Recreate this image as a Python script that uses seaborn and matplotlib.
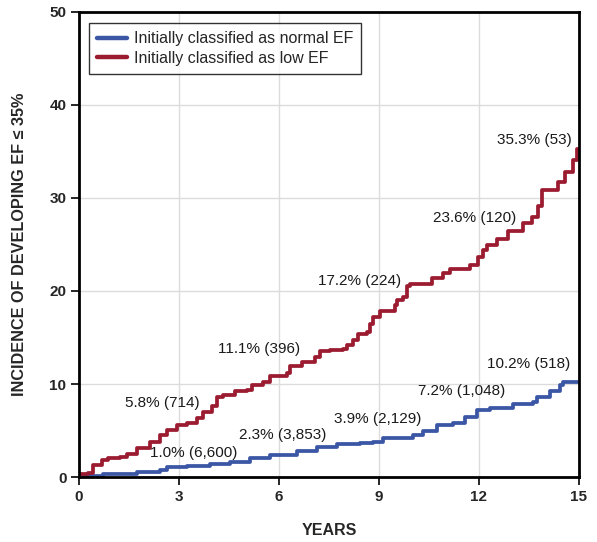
import pandas as pd
import seaborn as sns
import matplotlib.pyplot as plt

# step points (years, cumulative incidence %)
normal_years = [0, 0.73, 1.73, 2.43, 2.63, 3.23, 3.93, 4.53, 5.13, 5.73, 6.53, 7.13,
                7.73, 8.43, 8.83, 9.13, 10.03, 10.33, 10.73, 11.23, 11.58, 11.93,
                12.33, 13.03, 13.63, 13.73, 14.13, 14.43, 14.53, 15]
normal_inc = [0.14, 0.3, 0.57, 0.75, 1.04, 1.18, 1.4, 1.65, 2.0, 2.37, 2.8, 3.26,
              3.55, 3.7, 3.8, 4.15, 4.5, 4.9, 5.6, 5.8, 6.5, 7.2,
              7.4, 7.9, 8.1, 8.6, 9.2, 9.9, 10.2, 10.2]

low_years = [0, 0.28, 0.43, 0.68, 0.88, 1.23, 1.43, 1.73, 2.13, 2.43, 2.63, 2.93,
             3.23, 3.53, 3.73, 3.98, 4.13, 4.33, 4.68, 5.03, 5.18, 5.53, 5.73,
             6.23, 6.33, 6.68, 7.08, 7.23, 7.53, 7.93, 8.03, 8.23, 8.38, 8.63,
             8.73, 8.83, 9.03, 9.48, 9.53, 9.73, 9.83, 9.93, 10.58, 10.93, 11.13,
             11.73, 11.98, 12.13, 12.23, 12.53, 12.88, 13.33, 13.58, 13.78, 13.88,
             14.38, 14.58, 14.83, 14.93, 15]
low_inc = [0.3, 0.46, 1.3, 1.8, 2.0, 2.2, 2.5, 3.1, 3.8, 4.5, 5.05, 5.6,
           5.8, 6.3, 7.0, 7.6, 8.6, 8.8, 9.2, 9.35, 9.9, 10.25, 10.9,
           11.15, 11.9, 12.4, 12.9, 13.5, 13.7, 13.8, 14.2, 14.7, 15.4, 15.6,
           16.5, 17.2, 17.8, 18.5, 19.0, 19.4, 20.5, 20.8, 21.4, 21.9, 22.4,
           22.8, 23.7, 24.4, 24.9, 25.6, 26.4, 27.3, 28.0, 29.1, 30.9,
           31.75, 32.8, 34.1, 35.3, 35.3]

normal_lbl = ['1.0% (6,600)', '2.3% (3,853)', '3.9% (2,129)', '7.2% (1,048)', '10.2% (518)']
normal_lbl_x = [3.45, 6.1, 8.97, 11.48, 13.5]
normal_lbl_y = [2.6, 4.5, 6.2, 9.2, 12.15]

low_lbl = ['5.8% (714)', '11.1% (396)', '17.2% (224)', '23.6% (120)', '35.3% (53)']
low_lbl_x = [2.5, 5.4, 8.43, 11.88, 13.65]
low_lbl_y = [8.0, 13.75, 21.1, 27.8, 36.2]

name_normal = 'Initially classified as normal EF'
name_low = 'Initially classified as low EF'

df = pd.concat([
    pd.DataFrame({'Years': normal_years, 'Incidence': normal_inc, 'Group': name_normal}),
    pd.DataFrame({'Years': low_years, 'Incidence': low_inc, 'Group': name_low}),
])

sns.set_style('white')
plt.rcParams['font.family'] = ['Liberation Sans', 'DejaVu Sans']

fig = plt.figure(figsize=(5.97, 5.42), dpi=100)
ax = fig.add_axes([0.1323, 0.1199, 0.8375, 0.858])

sns.lineplot(data=df, x='Years', y='Incidence', hue='Group',
             palette={name_normal: '#3a56a5', name_low: '#9b1b30'},
             drawstyle='steps-post', linewidth=2.7, estimator=None, sort=False, ax=ax)

# percentages with number at risk
for t, x, y in zip(normal_lbl, normal_lbl_x, normal_lbl_y):
    ax.text(x, y, t, ha='center', va='center', fontsize=11, color='#1a1a1a')
for t, x, y in zip(low_lbl, low_lbl_x, low_lbl_y):
    ax.text(x, y, t, ha='center', va='center', fontsize=11, color='#1a1a1a')

ax.set_xlim(0, 15)
ax.set_ylim(0, 50)
ax.set_xticks(range(0, 16, 3))
ax.set_yticks(range(0, 51, 10))
ax.grid(True, color='#dcdcdc', lw=1)
ax.tick_params(axis='both', direction='out', length=6, width=1.4, labelsize=11,
               bottom=True, left=True, pad=3)
for lab in ax.get_xticklabels() + ax.get_yticklabels():
    lab.set_fontweight('bold')
for sp in ax.spines.values():
    sp.set_linewidth(2)
    sp.set_color('black')

ax.set_xlabel('YEARS', fontsize=11.5, fontweight='bold')
ax.xaxis.set_label_coords(0.5, -0.099)
ax.set_ylabel('INCIDENCE OF DEVELOPING EF \u2264 35%', fontsize=11.7, fontweight='bold')
ax.yaxis.set_label_coords(-0.103, 0.5)

leg = ax.legend(loc='upper left', bbox_to_anchor=(0.02, 0.976), borderaxespad=0,
                fontsize=11.5, frameon=True, fancybox=False, edgecolor='black',
                handlelength=1.9, handletextpad=0.4, borderpad=0.5, labelspacing=0.3)
leg.get_frame().set_linewidth(1.0)
for h in leg.get_lines():
    h.set_linewidth(3.2)

fig.savefig('out.png', dpi=100)
